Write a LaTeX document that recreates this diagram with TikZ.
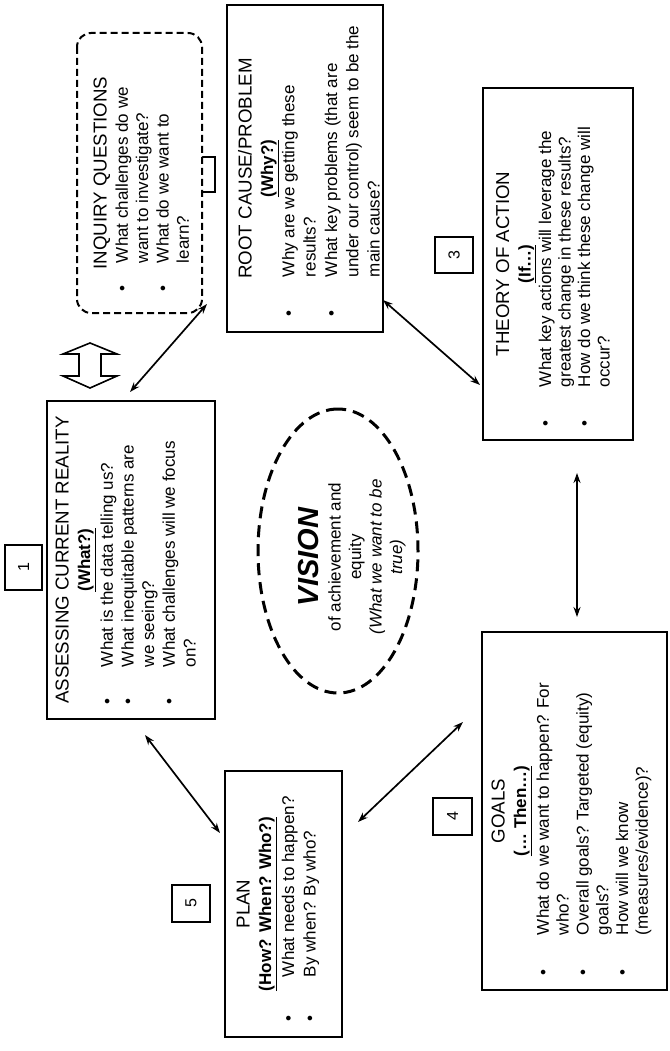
\documentclass[tikz,border=0pt]{standalone}
\usepackage{fontspec}
\setmainfont{Liberation Sans}
\usetikzlibrary{shapes.geometric,arrows.meta}
\setlength{\parindent}{0pt}
\setlength{\parskip}{0pt}
\newcommand\titlef{\fontsize{18.7}{21.5}\selectfont}
\newcommand\headf{\fontsize{17}{21.5}\selectfont\bfseries}
\newcommand\bodyf[1]{\fontsize{17}{#1}\selectfont}
\tikzset{
  panel/.style={draw, line width=2.2pt, rotate=90, inner sep=0pt, fill=white},
  inqpanel/.style={draw, line width=2pt, dash pattern=on 7pt off 4pt, rounded corners=14pt, rotate=90, inner sep=0pt, fill=white},
  numbox/.style={draw, line width=1.8pt, rotate=90, inner sep=0pt, font=\fontsize{16}{18}\selectfont},
  conn/.style={line width=1.7pt, {Stealth[length=10pt,width=7pt]}-{Stealth[length=10pt,width=7pt]}},
  visionring/.style={ellipse, draw, line width=3pt, dash pattern=on 12pt off 7pt, rotate=90, inner sep=0pt},
}
\begin{document}
\begin{tikzpicture}[x=1pt,y=-1pt]
\useasboundingbox (0,0) rectangle (669,1051);

% small hidden box (behind inquiry box)
\node[numbox, minimum width=35pt, minimum height=14pt] (n2) at (208,174.5) {};

% INQUIRY QUESTIONS
\node[inqpanel] (inq) at (139.5,173) {%
\begin{minipage}[t][125pt][t]{280pt}%
{\centering\titlef\rule{0pt}{29.6pt}INQUIRY QUESTIONS\par}%
\vspace{1pt}%
{\bodyf{20.3}\hspace*{22pt}\begin{tabular}[t]{@{}p{28pt}@{}l@{}}
\textbullet & What challenges do we\\
 & want to investigate?\\
\textbullet & What do we want to\\
 & learn?
\end{tabular}\par}%
\end{minipage}};

% ROOT CAUSE
\node[panel] (root) at (305,168.5) {%
\begin{minipage}[t][156pt][t]{327pt}%
{\centering\titlef\rule{0pt}{24.6pt}ROOT CAUSE/PROBLEM\\
\headf\underline{(Why?)}\par}%
{\bodyf{21.3}\hspace*{16pt}\begin{tabular}[t]{@{}p{39pt}@{}l@{}}
\textbullet & Why are we getting these\\
 & results?\\
\textbullet & What key problems (that are\\
 & under our control) seem to be the\\
 & main cause?
\end{tabular}\par}%
\end{minipage}};

% THEORY OF ACTION
\node[panel] (theory) at (558,264) {%
\begin{minipage}[t][150pt][t]{352pt}%
{\centering\titlef\rule{0pt}{26pt}THEORY OF ACTION\\
\headf\underline{(If…)}\par}%
\vspace{1pt}%
{\bodyf{19.5}\hspace*{14pt}\begin{tabular}[t]{@{}p{39pt}@{}l@{}}
\textbullet & What key actions will leverage the\\
 & greatest change in these results?\\
\textbullet & How do we think these change will\\
 & occur?
\end{tabular}\par}%
\end{minipage}};

% GOALS
\node[panel] (goals) at (574.5,811) {%
\begin{minipage}[t][185pt][t]{358pt}%
{\centering\titlef\rule{0pt}{22.6pt}GOALS\\
\headf\underline{(… Then…)}\par}%
\vspace{3pt}%
{\bodyf{19.8}\hspace*{15pt}\begin{tabular}[t]{@{}p{40pt}@{}l@{}}
\textbullet & What do we want to happen? For\\
 & who?\\
\textbullet & Overall goals? Targeted (equity)\\
 & goals?\\
\textbullet & How will we know\\
 & (measures/evidence)?
\end{tabular}\par}%
\end{minipage}};

% PLAN
\node[panel] (plan) at (283.5,904) {%
\begin{minipage}[t][117pt][t]{266pt}%
{\centering\titlef\rule{0pt}{24.6pt}PLAN\\
\headf\underline{(How? When? Who?)}\par}%
\vspace{1.4pt}%
{\bodyf{21.5}\hspace*{16pt}\begin{tabular}[t]{@{}p{44pt}@{}l@{}}
\textbullet & What needs to happen?\\
\textbullet & By when? By who?
\end{tabular}\par}%
\end{minipage}};

% ASSESSING CURRENT REALITY
\node[panel] (assess) at (131,560) {%
\begin{minipage}[t][168pt][t]{318pt}%
{\centering\titlef\rule{0pt}{21.6pt}ASSESSING CURRENT REALITY\\
\headf\underline{(What?)}\par}%
\vspace{2pt}%
{\bodyf{20.7}\hspace*{15pt}\begin{tabular}[t]{@{}p{37pt}@{}l@{}}
\textbullet & What is the data telling us?\\
\textbullet & What inequitable patterns are\\
 & we seeing?\\
\textbullet & What challenges will we focus\\
 & on?
\end{tabular}\par}%
\end{minipage}};

% VISION
\node[visionring, minimum width=284pt, minimum height=160pt] (vision) at (338,551) {};
\node[rotate=90, anchor=north, inner sep=0pt] (visiontxt) at (297.6,557) {%
\bodyf{20.5}\begin{tabular}{@{}c@{}}
{\fontsize{29}{30}\selectfont\bfseries\itshape VISION}\\[2pt]
of achievement and\\
equity\\
\itshape (What we want to be\\
\itshape true)
\end{tabular}};

% number boxes
\node[numbox, minimum width=45pt, minimum height=37pt] (n1) at (23.5,567.5) {1};
\node[numbox, minimum width=36pt, minimum height=38pt] (n3) at (454,255) {3};
\node[numbox, minimum width=37pt, minimum height=39pt] (n4) at (452.5,816.5) {4};
\node[numbox, minimum width=37pt, minimum height=38pt] (n5) at (191,903.5) {5};

% hollow double arrow between inquiry and assessing
\draw[line width=1.6pt, fill=white] (90,343) -- (117,354) -- (101,354) -- (101,376) -- (117,376) -- (90,388)
  -- (63,376) -- (79,376) -- (79,354) -- (63,354) -- cycle;

% connector end points
\coordinate (a1a) at (130,392);
\coordinate (a1b) at (207,304);
\coordinate (a2a) at (383,300);
\coordinate (a2b) at (480,385);
\coordinate (a3a) at (577,473);
\coordinate (a3b) at (577,617);
\coordinate (a4a) at (463,722);
\coordinate (a4b) at (358,822);
\coordinate (a5a) at (145,735);
\coordinate (a5b) at (220,833);

\draw[conn] (a1a) -- (a1b);
\draw[conn] (a2a) -- (a2b);
\draw[conn] (a3a) -- (a3b);
\draw[conn] (a4a) -- (a4b);
\draw[conn] (a5a) -- (a5b);
\end{tikzpicture}
\end{document}
